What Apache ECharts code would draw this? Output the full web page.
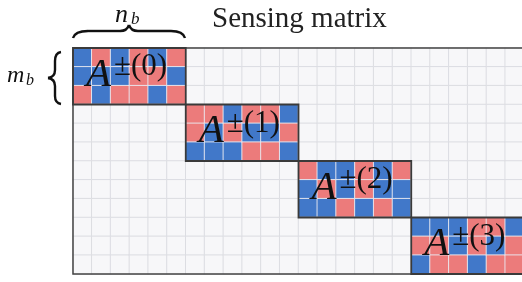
<!DOCTYPE html>
<html>
<head>
<meta charset="utf-8">
<script src="https://cdn.jsdelivr.net/npm/echarts@6/dist/echarts.min.js"></script>
<style>
  html, body { margin: 0; padding: 0; background: #fff; }
  #chart { width: 522px; height: 282px; }
</style>
</head>
<body>
<div id="chart"></div>
<script>
// matrix size (columns, rows) and block size
var colCount = 24;
var rowCount = 12;
var blockCols = 6;
var blockRows = 3;

// sign pattern of each block, R = +1 (red), B = -1 (blue)
var block0 = [
    ['B', 'R', 'B', 'R', 'B', 'R'],
    ['B', 'B', 'B', 'R', 'R', 'B'],
    ['R', 'B', 'R', 'R', 'B', 'R']
];
var block1 = [
    ['R', 'R', 'B', 'R', 'R', 'B'],
    ['R', 'B', 'R', 'B', 'B', 'R'],
    ['B', 'B', 'B', 'R', 'R', 'B']
];
var block2 = [
    ['R', 'B', 'B', 'R', 'B', 'R'],
    ['B', 'R', 'B', 'R', 'B', 'B'],
    ['B', 'B', 'R', 'B', 'R', 'B']
];
var block3 = [
    ['B', 'B', 'B', 'R', 'R', 'B'],
    ['R', 'R', 'B', 'R', 'B', 'R'],
    ['B', 'R', 'R', 'B', 'R', 'R']
];
var blocks = [block0, block1, block2, block3];
var blockNames = ['0', '1', '2', '3'];

var RED = '#ec7b7b';
var BLUE = '#4178c9';
var EMPTY = '#f7f7f9';
var serif = '"Liberation Serif", "DejaVu Serif", serif';

var cols = [];
for (var c = 0; c < colCount; c++) cols.push(c);
var rows = [];
for (var r = 0; r < rowCount; r++) rows.push(r);

// every cell starts empty, then the blocks are written on the diagonal
var cells = {};
blocks.forEach(function (b, k) {
    b.forEach(function (line, i) {
        line.forEach(function (s, j) {
            cells[(k * blockCols + j) + '_' + (k * blockRows + i)] = s === 'R' ? 1 : 2;
        });
    });
});
var heatData = [];
cols.forEach(function (x) {
    rows.forEach(function (y) {
        var v = cells[x + '_' + y] || 0;
        heatData.push({
            value: [x, y, v],
            itemStyle: v ? { borderColor: 'rgba(235,235,242,0.9)' } : {}
        });
    });
});

var blockData = blocks.map(function (b, k) {
    return [k * blockCols, k * blockRows, k * blockCols + blockCols - 1, k * blockRows + blockRows - 1, k];
});

function cellRect(api, x0, y0, x1, y1) {
    var p0 = api.coord([x0, y0]);
    var p1 = api.coord([x1, y1]);
    var s = api.size([1, 1]);
    return { x: p0[0] - s[0] / 2, y: p0[1] - s[1] / 2, width: p1[0] - p0[0] + s[0], height: p1[1] - p0[1] + s[1] };
}

// brace pieces (decoration)
var braceStyle = { fill: 'none', stroke: '#111', lineWidth: 2.4 };
function curve(x1, y1, cx, cy, x2, y2) {
    return { type: 'bezierCurve', shape: { x1: x1, y1: y1, cpx1: cx, cpy1: cy, x2: x2, y2: y2 }, style: braceStyle };
}
function seg(x1, y1, x2, y2) {
    return { type: 'line', shape: { x1: x1, y1: y1, x2: x2, y2: y2 }, style: braceStyle };
}

var chart = echarts.init(document.getElementById('chart'));
var option = {
    animation: false,
    title: {
        text: 'Sensing matrix',
        left: 207,
        top: 0,
        textStyle: { fontFamily: serif, fontSize: 29, fontWeight: 'normal', color: '#222' }
    },
    grid: { left: 73, top: 48, width: 451, height: 226, outerBoundsMode: 'none' },
    xAxis: {
        type: 'category', data: cols,
        axisLine: { show: false }, axisTick: { show: false }, axisLabel: { show: false }, splitLine: { show: false }
    },
    yAxis: {
        type: 'category', data: rows, inverse: true,
        axisLine: { show: false }, axisTick: { show: false }, axisLabel: { show: false }, splitLine: { show: false }
    },
    visualMap: {
        show: false,
        type: 'piecewise',
        dimension: 2,
        seriesIndex: 0,
        pieces: [
            { value: 0, color: EMPTY },
            { value: 1, color: RED },
            { value: 2, color: BLUE }
        ]
    },
    graphic: [
        // brace over the first block
        curve(73, 38, 75, 31, 88, 31),
        seg(88, 31, 120, 31),
        curve(120, 31, 127, 31, 129, 25),
        curve(129, 25, 131, 31, 138, 31),
        seg(138, 31, 171, 31),
        curve(171, 31, 183, 31, 185, 38),
        { type: 'text', style: { text: 'n', x: 115, y: 15, font: 'italic 26px ' + serif, fill: '#111', textVerticalAlign: 'middle', verticalAlign: 'middle' } },
        { type: 'text', style: { text: 'b', x: 131, y: 20, font: 'italic 17px ' + serif, fill: '#111', textVerticalAlign: 'middle', verticalAlign: 'middle' } },
        // brace left of the first block
        curve(61, 52, 55, 53, 55, 61),
        seg(55, 61, 55, 70),
        curve(55, 70, 55, 77, 48, 78),
        curve(48, 78, 55, 79, 55, 86),
        seg(55, 86, 55, 96),
        curve(55, 96, 55, 103, 61, 104),
        { type: 'text', style: { text: 'm', x: 7, y: 76, font: 'italic 24px ' + serif, fill: '#111', textVerticalAlign: 'middle', verticalAlign: 'middle' } },
        { type: 'text', style: { text: 'b', x: 26, y: 81, font: 'italic 16px ' + serif, fill: '#111', textVerticalAlign: 'middle', verticalAlign: 'middle' } }
    ],
    series: [
        {
            type: 'heatmap',
            data: heatData,
            itemStyle: { borderColor: '#dcdde2', borderWidth: 1 },
            emphasis: { disabled: true }
        },
        {
            // outer frame
            type: 'custom',
            data: [[0, 0, colCount - 1, rowCount - 1]],
            encode: { x: [0, 2], y: [1, 3] },
            z: 5,
            renderItem: function (params, api) {
                var rc = cellRect(api, api.value(0), api.value(1), api.value(2), api.value(3));
                return { type: 'rect', shape: rc, style: { fill: 'none', stroke: '#444', lineWidth: 1.5 } };
            }
        },
        {
            // block outlines and labels
            type: 'custom',
            data: blockData,
            encode: { x: [0, 2], y: [1, 3] },
            z: 6,
            renderItem: function (params, api) {
                var rc = cellRect(api, api.value(0), api.value(1), api.value(2), api.value(3));
                var name = blockNames[api.value(4)];
                return {
                    type: 'group',
                    children: [
                        { type: 'rect', shape: rc, style: { fill: 'none', stroke: '#3a3a3a', lineWidth: 1.8 } },
                        { type: 'text', style: { text: 'A', x: rc.x + 13, y: rc.y + 27, font: 'italic 41px ' + serif, fill: '#111', verticalAlign: 'middle' } },
                        { type: 'text', style: { text: '\u00b1(' + name + ')', x: rc.x + 41, y: rc.y + 19, font: '31px ' + serif, fill: '#111', verticalAlign: 'middle' } }
                    ]
                };
            }
        }
    ]
};
chart.setOption(option);
</script>
</body>
</html>
